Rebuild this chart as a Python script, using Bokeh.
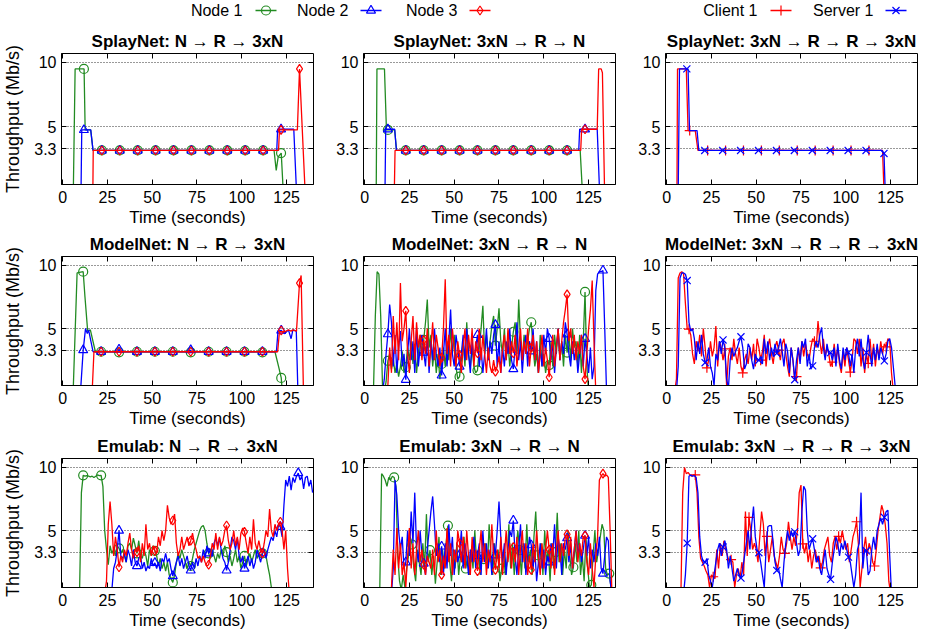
from bokeh.plotting import figure
from bokeh.models import Range1d, FixedTicker, LinearAxis
from bokeh.layouts import column, row
from bokeh.embed import file_html
from bokeh.resources import INLINE
from bokeh.core.properties import value

FONT = "Liberation Sans"
GREEN = "#228b22"
BLUE = "#0000ff"
RED = "#ff0000"

X_TICKS = [0, 25, 50, 75, 100, 125]
Y_TICKS = [3.3, 5, 10]
Y_TICK_LABELS = {3.3: "3.3", 5: "5", 10: "10"}

TITLES = [
    ["SplayNet: N \u2192 R \u2192 3xN", "SplayNet: 3xN \u2192 R \u2192 N", "SplayNet: 3xN \u2192 R \u2192 R \u2192 3xN"],
    ["ModelNet: N \u2192 R \u2192 3xN", "ModelNet: 3xN \u2192 R \u2192 N", "ModelNet: 3xN \u2192 R \u2192 R \u2192 3xN"],
    ["Emulab: N \u2192 R \u2192 3xN", "Emulab: 3xN \u2192 R \u2192 N", "Emulab: 3xN \u2192 R \u2192 R \u2192 3xN"],
]

# ---------------- SplayNet N -> R -> 3xN (breakpoints + markers) ----------------
S1_G_T = [2, 6, 7, 12.0, 12.6, 15.7, 17, 118, 119.2, 120.3, 122, 123.1]
S1_G_V = [0, 0, 9.5, 9.5, 4.75, 4.75, 3.15, 3.15, 1.6, 2.65, 2.95, 0]
S1_G_MT = [11.9, 21.9, 31.9, 41.9, 51.9, 61.9, 71.9, 81.9, 91.9, 101.9, 111.9, 121.9]
S1_G_MV = [9.5, 3.15, 3.15, 3.15, 3.15, 3.15, 3.15, 3.15, 3.15, 3.15, 3.15, 2.95]
S1_B_T = [2, 10.3, 10.7, 15.7, 17, 119.5, 120, 129, 130.5]
S1_B_V = [0, 0, 4.75, 4.75, 3.15, 3.15, 4.8, 4.8, 0]
S1_B_MT = [11.9, 21.9, 31.9, 41.9, 51.9, 61.9, 71.9, 81.9, 91.9, 101.9, 111.9, 121.9]
S1_B_MV = [4.75, 3.15, 3.15, 3.15, 3.15, 3.15, 3.15, 3.15, 3.15, 3.15, 3.15, 4.8]
S1_R_T = [2, 16.9, 17.1, 120.5, 121, 131, 132.2, 135.2]
S1_R_V = [0, 0, 3.15, 3.15, 4.75, 4.75, 9.5, 0.3]
S1_R_MT = [21.9, 31.9, 41.9, 51.9, 61.9, 71.9, 81.9, 91.9, 101.9, 111.9, 121.9, 132.2]
S1_R_MV = [3.15, 3.15, 3.15, 3.15, 3.15, 3.15, 3.15, 3.15, 3.15, 3.15, 4.75, 9.5]

# ---------------- SplayNet 3xN -> R -> N ----------------
S2_G_T = [3, 6.5, 6.9, 11.1, 12.2, 16.8, 17.8, 120.3, 121.5]
S2_G_V = [0, 0, 9.5, 9.5, 4.75, 4.75, 3.15, 3.15, 0]
S2_G_MT = [13, 23, 33, 43, 53, 63, 73, 83, 93, 103, 113]
S2_G_MV = [4.75, 3.15, 3.15, 3.15, 3.15, 3.15, 3.15, 3.15, 3.15, 3.15, 3.15]
S2_B_T = [3, 11.4, 11.8, 16.8, 17.8, 119.5, 120, 129.8, 131.1]
S2_B_V = [0, 0, 4.8, 4.8, 3.15, 3.15, 4.8, 4.8, 0]
S2_B_MT = [13, 23, 33, 43, 53, 63, 73, 83, 93, 103, 113, 123]
S2_B_MV = [4.8, 3.15, 3.15, 3.15, 3.15, 3.15, 3.15, 3.15, 3.15, 3.15, 3.15, 4.8]
S2_R_T = [3, 16.6, 17.0, 120.6, 121.1, 129.8, 130.6, 132, 132.7, 133.9]
S2_R_V = [0, 0, 3.15, 3.15, 4.8, 4.8, 9.5, 9.5, 9.2, 0]
S2_R_MT = [23, 33, 43, 53, 63, 73, 83, 93, 103, 113, 123]
S2_R_MV = [3.15, 3.15, 3.15, 3.15, 3.15, 3.15, 3.15, 3.15, 3.15, 3.15, 4.8]

# ---------------- SplayNet 3xN -> R -> R -> 3xN ----------------
S3_C_T = [1, 5.8, 6.1, 11, 12, 16, 17.5, 120.5, 121.3]
S3_C_V = [0, 0, 9.5, 9.5, 4.7, 4.7, 3.15, 3.15, 0]
S3_C_MT = [12.9, 22.9, 32.9, 42.9, 52.9, 62.9, 72.9, 82.9, 92.9, 102.9, 112.9]
S3_C_MV = [4.7, 3.15, 3.15, 3.15, 3.15, 3.15, 3.15, 3.15, 3.15, 3.15, 3.15]
S3_S_T = [1, 6.5, 7.2, 12, 12.8, 17, 18, 120.3, 121.3, 122]
S3_S_V = [0, 0, 9.5, 9.5, 4.7, 4.7, 3.15, 3.15, 2.92, 0]
S3_S_MT = [11.3, 21.3, 31.3, 41.3, 51.3, 61.3, 71.3, 81.3, 91.3, 101.3, 111.3, 121.3]
S3_S_MV = [9.5, 3.15, 3.15, 3.15, 3.15, 3.15, 3.15, 3.15, 3.15, 3.15, 3.15, 2.92]

# ---------------- ModelNet N -> R -> 3xN ----------------
M1_G_T = [1.5, 5.9, 8.1, 11.5, 12.5, 14, 15.5, 18.3, 118.5, 120.7, 122, 122.6]
M1_G_V = [0, 0, 9.4, 9.5, 7.5, 4.8, 4.9, 3.17, 3.17, 1.9, 1.1, 0]
M1_G_MT = [11.5, 21.5, 31.5, 41.5, 51.5, 61.5, 71.5, 81.5, 91.5, 101.5, 111.5, 122]
M1_G_MV = [9.5, 3.17, 3.12, 3.17, 3.17, 3.17, 3.12, 3.17, 3.17, 3.17, 3.12, 1.1]
M1_B_T = [1.5, 10, 11.5, 12.8, 13.8, 14.5, 17, 30.5, 31.5, 32.5, 70, 71, 72, 119.3, 120.2, 122, 124, 126, 127.5, 128.5, 130.4, 131.3]
M1_B_V = [0, 0, 3.3, 5.0, 4.6, 4.9, 3.17, 3.17, 3.35, 3.17, 3.17, 3.3, 3.17, 3.17, 4.8, 4.85, 4.6, 4.9, 4.2, 4.9, 4.8, 0]
M1_B_MT = [11.5, 21.5, 31.5, 41.5, 51.5, 61.5, 71.5, 81.5, 91.5, 101.5, 111.5, 122]
M1_B_MV = [3.3, 3.17, 3.35, 3.17, 3.17, 3.17, 3.3, 3.17, 3.17, 3.17, 3.17, 4.85]
M1_R_T = [1.5, 16.5, 17.5, 120, 121, 124, 126, 127.5, 128.5, 130.5, 132.2, 133.1, 134.4]
M1_R_V = [0, 0, 3.17, 3.17, 4.75, 4.75, 4.9, 4.8, 4.9, 4.8, 8.6, 9.2, 0]
M1_R_MT = [21.5, 31.5, 41.5, 51.5, 61.5, 71.5, 81.5, 91.5, 101.5, 111.5, 122, 132.2]
M1_R_MV = [3.17, 3.17, 3.17, 3.17, 3.17, 3.17, 3.17, 3.17, 3.17, 3.17, 4.85, 8.6]

# ---------------- ModelNet 3xN -> R -> N (1 s samples) ----------------
M2_T0 = 3
M2_G = [0, 0, 0.3, 6.0, 9.5, 9.3, 6.0, 0.5, 0, 0.8,
        2.45, 3.0, 1.8, 2.6, 1.5, 2.2, 1.2, 2.0, 3.2, 1.5,
        1.95, 3.5, 2.5, 4.0, 2.2, 3.8, 1.5, 3.0, 4.5, 3.0,
        4.1, 5.5, 7.3, 3.5, 4.5, 2.0, 3.5, 1.5, 3.0, 1.0,
        2.2, 3.5, 2.0, 4.0, 2.5, 5.0, 3.0, 4.5, 2.0, 1.0,
        1.2, 2.5, 4.0, 2.0, 5.5, 3.0, 2.0, 3.5, 2.0, 1.5,
        1.7, 3.5, 5.0, 6.8, 3.0, 4.5, 2.5, 4.0, 5.2, 6.0,
        3.65, 5.0, 6.6, 4.0, 3.0, 5.0, 2.5, 4.0, 2.0, 3.5,
        4.75, 5.5, 3.0, 7.3, 4.0, 2.5, 4.5, 3.0, 4.0, 5.0,
        5.5, 3.5, 2.0, 3.0, 1.5, 4.5, 2.0, 3.0, 1.5, 2.5,
        2.1, 4.0, 2.0, 4.5, 3.0, 5.0, 2.5, 4.0, 2.0, 4.5,
        3.1, 4.5, 2.5, 5.0, 3.5, 4.0, 2.0, 4.5, 1.5, 4.0,
        7.9, 2.0, 0]
M2_B = [0, 0, 0, 0, 0, 0, 0, 0, 1.0, 3.0,
        4.56, 6.9, 5.5, 2.0, 4.5, 1.5, 3.5, 4.8, 2.0, 3.0,
        0.96, 3.0, 5.0, 2.5, 4.0, 1.5, 5.0, 2.0, 3.5, 4.5,
        3.1, 2.0, 4.5, 1.5, 4.0, 2.5, 5.0, 3.0, 2.0, 3.5,
        1.3, 3.0, 5.0, 2.0, 4.0, 6.5, 3.0, 2.0, 4.5, 3.5,
        2.0, 3.0, 4.5, 2.5, 5.0, 3.0, 1.5, 4.0, 2.5, 3.5,
        4.5, 2.0, 3.5, 1.5, 3.0, 5.0, 2.5, 4.0, 3.0, 4.5,
        5.3, 2.0, 4.0, 1.5, 3.5, 2.0, 4.0, 3.0, 5.0, 2.5,
        1.8, 3.5, 5.5, 2.5, 4.0, 1.5, 3.5, 4.5, 2.0, 4.0,
        3.2, 5.0, 2.5, 4.0, 1.5, 3.5, 2.0, 4.5, 3.0, 5.0,
        4.2, 2.5, 4.0, 1.5, 3.5, 5.0, 2.5, 4.0, 3.0, 5.5,
        4.55, 3.0, 2.0, 4.0, 2.5, 3.5, 1.5, 3.0, 4.5, 2.0,
        4.2, 3.0, 1.5, 3.5, 1.0, 2.0, 8.0, 9.3, 9.5, 9.5,
        9.6, 5.0, 0]
M2_R = [0, 0, 0, 0, 0, 0, 0, 0, 0, 0,
        0.5, 3.5, 1.5, 6.0, 3.0, 5.5, 2.5, 8.6, 4.0, 5.0,
        6.4, 3.0, 1.5, 4.0, 6.0, 2.5, 5.5, 3.5, 4.5, 2.5,
        4.1, 3.0, 5.0, 2.0, 3.5, 5.5, 2.5, 4.5, 3.5, 2.0,
        2.7, 5.0, 8.9, 3.0, 4.5, 2.0, 5.0, 3.5, 2.0, 4.0,
        2.9, 1.5, 3.5, 5.0, 2.5, 4.5, 3.0, 5.0, 2.0, 4.0,
        3.05, 5.0, 2.5, 4.5, 3.0, 1.5, 3.5, 2.0, 1.5, 2.5,
        1.6, 2.0, 2.8, 1.5, 3.5, 4.5, 2.5, 5.0, 3.0, 4.0,
        3.05, 4.5, 2.0, 3.5, 5.0, 2.5, 4.0, 3.0, 5.0, 2.0,
        3.5, 4.5, 2.5, 4.0, 1.5, 3.0, 4.5, 2.0, 3.5, 2.5,
        1.15, 3.0, 4.5, 2.0, 3.5, 5.0, 2.5, 4.0, 5.5, 6.5,
        7.7, 4.0, 5.0, 3.0, 4.5, 2.5, 4.0, 3.0, 4.5, 2.0,
        1.0, 3.0, 5.0, 6.5, 8.8, 4.0, 0]

# ---------------- ModelNet 3xN -> R -> R -> 3xN ----------------
M3_S_T0 = 1.5
M3_S = [0, 0, 0, 0, 0, 2.0, 9.0, 9.4, 9.4, 9.3,
        8.8, 5.5, 4.8, 5.0, 4.2, 2.5, 4.0, 3.0, 4.5, 3.0,
        2.3, 2.5, 3.5, 2.0, 1.5, 0.5, 3.0, 2.5, 4.0, 3.0,
        4.1, 3.5, 1.0, 0.3, 2.5, 3.5, 2.8, 3.2, 3.5, 4.0,
        4.35, 3.5, 1.8, 2.2, 3.8, 3.5, 2.5, 1.8, 3.0, 2.5,
        2.5, 2.8, 2.2, 4.2, 3.0, 4.0, 2.5, 3.5, 2.8, 3.8,
        3.05, 3.5, 4.2, 3.2, 2.0, 3.8, 3.2, 1.5, 3.5, 2.5,
        0.96, 2.5, 3.5, 2.2, 4.0, 3.5, 4.2, 2.0, 3.0, 1.8,
        2.05, 3.5, 4.0, 3.5, 4.5, 5.1, 3.5, 2.5, 3.8, 3.0,
        3.1, 2.5, 3.5, 2.0, 3.8, 2.5, 1.8, 3.5, 2.5, 3.5,
        3.1, 2.0, 3.0, 1.5, 3.5, 4.2, 2.8, 4.2, 2.5, 1.8,
        3.1, 4.5, 3.0, 2.0, 3.5, 2.5, 3.8, 2.5, 3.5, 3.0,
        2.45, 3.0, 4.0, 4.2, 3.5, 2.0, 0.5, 0]
M3_C_T0 = 2.5
M3_C = [0, 0, 0, 1.0, 9.0, 9.4, 9.5, 9.3, 7.0, 5.0,
        4.95, 4.5, 3.0, 2.2, 4.0, 3.2, 4.5, 2.8, 5.0, 3.5,
        1.9, 2.5, 4.0, 2.8, 3.5, 5.2, 2.0, 4.0, 3.5, 2.5,
        3.4, 0.5, 2.8, 3.5, 2.5, 4.2, 3.0, 2.2, 3.5, 2.0,
        1.5, 2.5, 3.0, 2.2, 3.5, 2.5, 3.8, 2.0, 4.2, 3.5,
        2.5, 3.2, 4.5, 2.0, 3.5, 4.2, 3.0, 2.2, 3.5, 4.0,
        3.3, 2.5, 3.8, 4.2, 3.0, 2.0, 1.2, 3.5, 2.5, 1.0,
        1.2, 3.5, 2.5, 4.0, 2.8, 3.8, 3.0, 2.5, 3.5, 4.2,
        4.0, 3.5, 5.6, 4.0, 3.0, 4.2, 2.8, 3.5, 3.0, 2.0,
        2.35, 3.8, 2.5, 3.5, 2.2, 1.5, 3.2, 2.0, 3.5, 2.5,
        1.55, 2.5, 4.2, 4.0, 3.0, 4.2, 2.0, 3.5, 1.5, 3.0,
        2.25, 4.2, 2.5, 3.8, 2.0, 3.5, 2.8, 4.0, 3.0, 3.8,
        3.55, 4.2, 4.0, 1.5, 0]

# ---------------- Emulab N -> R -> 3xN ----------------
E1_T0 = 1.5
E1_G = [0, 0, 0, 0, 0, 0, 0, 0, 0.3, 8.0,
        9.37, 9.3, 9.35, 9.3, 9.25, 9.3, 9.2, 9.3, 9.4, 9.35,
        9.37, 8.5, 5.0, 3.5, 2.3, 3.8, 3.2, 3.5, 3.0, 3.8,
        3.6, 3.2, 3.5, 3.0, 2.5, 3.8, 4.0, 3.5, 4.4, 3.8,
        3.2, 4.2, 3.0, 2.8, 3.5, 3.0, 2.2, 3.5, 3.0, 3.8,
        3.4, 3.0, 2.2, 2.8, 2.0, 2.5, 1.8, 2.5, 1.5, 1.2,
        0.9, 1.5, 2.5, 3.2, 2.8, 3.5, 3.0, 2.5, 2.0, 2.5,
        2.2, 2.8, 3.5, 4.0, 4.5, 5.0, 5.3, 5.4, 5.0, 4.0,
        3.2, 2.8, 3.5, 3.0, 2.5, 3.2, 2.8, 3.5, 3.0, 3.8,
        3.3, 2.5, 3.0, 2.2, 2.8, 3.5, 2.5, 3.0, 2.0, 2.5,
        3.0, 2.2, 2.8, 3.2, 2.5, 3.0, 3.5, 2.8, 3.2, 3.0,
        3.2, 3.5, 3.0, 2.2, 1.5, 0.5, 0]
E1_B = [0, 0, 0, 0, 0, 0, 0, 0, 0, 0,
        0, 0, 0, 0, 0, 0, 0, 0, 0, 0,
        0, 0, 0, 0, 0, 0, 0.3, 2.0, 2.5, 3.5,
        5.0, 3.0, 2.8, 3.2, 2.5, 3.5, 3.0, 2.2, 3.5, 2.5,
        2.2, 2.8, 3.0, 2.0, 2.5, 1.8, 2.2, 2.0, 2.8, 2.2,
        2.45, 2.0, 2.5, 1.8, 2.8, 2.5, 3.2, 2.5, 2.8, 2.0,
        1.4, 2.0, 2.5, 3.0, 2.2, 2.8, 2.0, 2.5, 3.0, 2.2,
        1.85, 2.5, 2.0, 2.8, 2.2, 3.0, 2.5, 3.5, 2.8, 3.8,
        3.2, 3.5, 3.0, 4.0, 4.4, 3.8, 4.4, 3.5, 2.8, 2.5,
        1.85, 2.5, 3.5, 4.5, 4.2, 3.5, 4.4, 3.0, 2.5, 3.0,
        2.0, 2.5, 3.0, 2.2, 2.8, 2.0, 2.5, 3.5, 3.0, 2.5,
        3.2, 3.5, 2.8, 3.5, 4.0, 4.5, 4.2, 5.0, 4.5, 5.5,
        5.3, 4.5, 7.0, 9.0, 8.5, 9.3, 8.2, 9.2, 8.8, 9.3,
        9.55, 9.0, 9.3, 8.3, 9.2, 9.3, 8.5, 9.0, 8.0]
E1_R = [0, 0, 0, 0, 0, 0, 0, 0, 0, 0,
        0, 0, 0, 0, 0, 0, 0, 0, 0, 0,
        0, 0, 0, 1.0, 5.5, 7.3, 5.5, 3.0, 4.5, 3.5,
        2.1, 3.0, 2.5, 3.5, 3.0, 4.0, 4.8, 3.5, 2.8, 3.5,
        3.3, 3.8, 2.5, 4.0, 3.0, 5.5, 3.5, 4.0, 3.0, 3.8,
        3.4, 3.2, 4.5, 3.8, 5.0, 4.2, 5.0, 7.0, 6.0, 5.5,
        5.8, 6.3, 4.0, 3.0, 3.5, 4.5, 3.5, 4.0, 4.5, 3.8,
        4.2, 4.8, 4.0, 3.5, 2.8, 3.0, 2.5, 3.0, 2.5, 2.2,
        2.3, 3.0, 4.0, 3.5, 4.8, 3.5, 4.5, 3.8, 4.2, 5.0,
        5.4, 4.2, 3.5, 4.0, 5.0, 3.8, 4.5, 3.5, 4.8, 5.2,
        4.9, 4.0, 3.2, 4.5, 3.5, 5.9, 4.0, 3.5, 4.2, 3.5,
        3.2, 4.0, 5.0, 4.5, 6.7, 5.0, 4.5, 5.5, 5.0, 5.5,
        5.7, 5.0, 3.5, 5.0, 2.0, 0]

# ---------------- Emulab 3xN -> R -> N ----------------
E2_G_T0 = 6.5
E2_G = [0, 0, 0.5, 9.5, 9.3, 9.0, 8.5, 9.2, 9.0, 9.3,
        9.2, 8.5, 3.0, 1.0, 0.3, 1.5, 0.5, 2.0, 3.0, 4.5,
        3.9, 2.0, 1.0, 3.5, 2.5, 1.5, 4.0, 2.0, 6.3, 2.5,
        3.45, 1.5, 3.0, 0.8, 2.5, 4.5, 1.5, 3.5, 2.0, 4.0,
        5.4, 2.5, 1.0, 3.5, 2.0, 4.0, 1.5, 3.0, 2.5, 4.5,
        2.0, 3.0, 1.5, 3.5, 2.0, 5.0, 2.5, 3.5, 1.5, 3.0,
        2.75, 4.0, 2.0, 5.5, 3.0, 1.5, 4.0, 2.5, 3.5, 1.0,
        2.0, 3.5, 1.5, 2.5, 5.5, 2.0, 4.0, 1.5, 3.5, 5.0,
        3.45, 1.5, 4.0, 2.0, 5.5, 2.5, 3.5, 1.5, 4.5, 6.5,
        3.05, 2.0, 4.0, 1.5, 5.0, 2.5, 3.5, 1.0, 4.0, 2.0,
        3.3, 6.4, 2.5, 4.0, 1.5, 3.5, 2.0, 5.0, 3.0, 1.5,
        2.1, 4.0, 2.5, 5.0, 1.5, 3.0, 1.0, 4.5, 2.0, 0.5,
        0.7, 3.0, 5.0, 2.5, 3.5, 4.5, 5.5, 5.0, 2.0, 1.5,
        1.6, 0.5]
E2_T0 = 3
E2_B = [0, 0, 0, 0, 0, 0, 0, 0, 0, 0,
        0, 0, 0, 2.0, 9.0, 7.8, 5.0, 3.5, 4.5, 2.0,
        2.5, 5.0, 3.0, 6.5, 4.0, 8.0, 3.5, 2.5, 5.0, 3.0,
        2.4, 1.5, 3.5, 5.0, 6.5, 7.7, 5.5, 3.0, 4.0, 2.5,
        3.75, 1.5, 4.0, 2.0, 5.5, 3.0, 4.5, 1.5, 3.5, 2.5,
        3.1, 5.0, 2.0, 4.0, 3.0, 1.5, 3.5, 2.5, 4.5, 2.0,
        3.0, 4.0, 1.5, 5.0, 2.5, 4.0, 2.0, 3.5, 1.5, 4.0,
        3.05, 5.0, 7.3, 4.5, 2.5, 4.0, 1.5, 3.5, 5.0, 4.5,
        5.8, 3.0, 1.5, 3.5, 5.5, 2.5, 4.0, 1.5, 3.0, 4.5,
        3.85, 2.0, 3.5, 1.0, 2.5, 4.0, 2.0, 3.5, 1.5, 3.0,
        2.5, 4.0, 3.0, 5.5, 2.0, 4.5, 3.5, 1.5, 4.0, 3.5,
        4.4, 2.5, 4.0, 2.0, 3.5, 5.0, 3.0, 4.0, 2.5, 3.5,
        4.6, 3.0, 4.5, 2.0, 3.5, 2.5, 4.0, 3.0, 4.5, 2.0,
        1.6, 3.0, 4.5, 4.2, 1.0, 0]
E2_R = [0, 0, 0, 0, 0, 0, 0, 0, 0, 0,
        0, 0, 0.5, 3.5, 1.5, 5.2, 2.0, 4.0, 1.5, 2.5,
        0.53, 3.0, 5.2, 2.0, 4.0, 1.5, 3.5, 5.0, 2.5, 3.5,
        2.3, 1.5, 3.0, 2.5, 2.0, 3.5, 1.5, 5.0, 2.5, 3.5,
        1.5, 3.0, 2.0, 5.2, 2.5, 4.0, 1.5, 3.5, 2.5, 5.0,
        4.0, 2.5, 4.5, 2.0, 5.0, 3.0, 1.5, 4.5, 2.5, 3.5,
        1.8, 3.5, 5.0, 2.5, 4.0, 1.5, 3.5, 2.5, 5.5, 3.0,
        1.9, 3.5, 2.0, 4.5, 1.5, 3.0, 5.0, 2.5, 4.0, 2.0,
        3.7, 2.5, 4.5, 1.5, 3.5, 5.0, 2.5, 4.0, 1.5, 3.0,
        1.9, 4.0, 2.5, 5.0, 3.0, 1.5, 4.0, 2.0, 3.5, 5.0,
        3.5, 2.0, 4.0, 1.5, 3.5, 5.0, 2.5, 4.0, 3.0, 4.5,
        4.7, 3.0, 4.5, 2.0, 3.5, 5.0, 2.5, 4.0, 3.0, 4.5,
        4.6, 2.5, 1.5, 4.0, 2.0, 0.5, 3.0, 4.5, 9.0, 9.3,
        9.5, 9.3, 9.4, 9.2, 5.0, 0]

# ---------------- Emulab 3xN -> R -> R -> 3xN ----------------
E3_C_T0 = 6
E3_C = [0, 0, 0, 8.0, 10.0, 9.5, 9.6, 9.4, 9.3, 9.4,
        9.4, 8.0, 4.5, 2.8, 2.5, 2.2, 1.8, 1.5, 0.5, 1.5,
        1.35, 1.2, 3.5, 2.0, 4.0, 3.0, 4.2, 3.5, 3.0, 2.5,
        2.7, 2.5, 0.5, 1.5, 2.0, 1.2, 2.5, 1.5, 6.5, 3.0,
        6.05, 5.0, 3.5, 4.0, 3.5, 2.5, 4.5, 6.5, 5.5, 3.0,
        4.55, 2.5, 3.5, 4.5, 3.0, 2.5, 2.0, 3.0, 4.5, 3.5,
        3.2, 4.0, 5.7, 4.5, 3.5, 4.5, 3.8, 5.0, 8.0, 8.6,
        3.95, 3.2, 4.0, 2.5, 3.5, 2.0, 3.0, 3.5, 2.5, 3.0,
        2.05, 2.5, 3.5, 4.0, 4.5, 3.0, 2.5, 4.0, 4.5, 3.5,
        4.55, 4.0, 5.0, 4.2, 3.5, 4.0, 2.5, 3.5, 4.5, 5.0,
        5.7, 4.0, 0.5, 2.0, 3.5, 4.5, 3.0, 4.0, 3.5, 2.5,
        2.2, 3.5, 5.0, 6.0, 7.0, 6.5, 5.5, 4.0, 1.0, 0]
E3_S_T0 = 1.5
E3_S = [0, 0, 0, 0, 0, 0, 0, 0, 0, 1.5,
        4.0, 9.3, 9.4, 9.3, 9.35, 9.2, 8.0, 4.5, 3.0, 2.5,
        2.5, 2.8, 1.5, 1.0, 0.5, 1.5, 2.5, 3.5, 4.0, 3.0,
        3.7, 4.2, 3.5, 2.0, 3.0, 2.0, 1.0, 1.5, 2.0, 1.5,
        1.25, 2.0, 3.0, 4.0, 5.0, 3.5, 5.5, 6.9, 4.5, 3.5,
        3.25, 2.5, 1.5, 0.5, 3.5, 5.3, 5.4, 5.4, 4.0, 2.5,
        1.85, 2.0, 1.2, 0.5, 2.5, 4.0, 5.0, 4.2, 5.0, 4.5,
        4.9, 4.0, 3.0, 3.5, 6.5, 8.5, 8.2, 5.0, 3.5, 4.0,
        4.35, 3.5, 2.5, 3.0, 2.0, 1.5, 2.5, 3.5, 2.0, 1.5,
        1.15, 2.5, 3.5, 4.5, 4.0, 3.0, 4.0, 3.5, 4.2, 3.5,
        2.9, 2.5, 1.5, 0.5, 1.5, 3.5, 4.0, 8.0, 2.0, 3.5,
        3.4, 1.5, 1.8, 3.5, 4.5, 3.5, 5.0, 5.5, 6.0, 5.5,
        6.05, 6.5, 6.6, 3.0, 0]

# ---------------- layout (style only) ----------------
COL_W = [325, 300, 302]
COL_L = [61, 38, 40]
COL_R = [12, 10, 10]
LEG_H = 22
ROW_H = [208, 202, 202]
ROW_T = [31, 24, 25]
ROW_B = [46, 47, 47]

MARK = {"g": ("circle", GREEN), "b": ("triangle", BLUE), "r": ("diamond", RED),
        "c": ("cross", RED), "s": ("x", BLUE)}


def sampled(t0, vals):
    ts = [t0 + k for k in range(len(vals))]
    return ts, vals, ts[::10], vals[::10]


def draw(p, kind, t, v, mt, mv):
    marker, color = MARK[kind]
    p.line(t, v, line_color=color, line_width=1.3)
    keep = [(a, b) for a, b in zip(mt, mv) if b >= 0.6]
    if keep:
        size = 10 if marker in ("cross", "x") else 9
        p.scatter([a for a, _ in keep], [b for _, b in keep], marker=marker, size=size,
                  line_color=color, fill_color=None, line_width=1.2)


def make_panel(r, c):
    p = figure(width=COL_W[c], height=ROW_H[r], x_range=Range1d(-0.6, 140), y_range=Range1d(0.5, 10.7),
               output_backend="svg", toolbar_location=None, title=TITLES[r][c],
               min_border_left=COL_L[c], min_border_right=COL_R[c],
               min_border_top=ROW_T[r], min_border_bottom=ROW_B[r])
    p.title.text_font = FONT
    p.title.text_font_size = "17px"
    p.title.text_font_style = "bold"
    p.title.text_color = "black"
    p.title.align = "center"
    p.title.standoff = 5
    p.xaxis.ticker = FixedTicker(ticks=X_TICKS)
    p.yaxis.ticker = FixedTicker(ticks=Y_TICKS)
    p.yaxis.major_label_overrides = Y_TICK_LABELS
    for ax in p.axis:
        ax.major_tick_in = 5
        ax.major_tick_out = 0
        ax.minor_tick_in = 0
        ax.minor_tick_out = 0
        ax.major_label_text_font = FONT
        ax.major_label_text_font_size = "16px"
        ax.major_label_text_color = "black"
        ax.axis_line_color = "black"
        ax.major_tick_line_color = "black"
        ax.axis_label_text_color = "black"
    p.xaxis.major_label_standoff = 6
    p.yaxis.major_label_standoff = 5
    p.xaxis.axis_label = "Time (seconds)"
    p.xaxis.axis_label_text_font = FONT
    p.xaxis.axis_label_text_font_size = "17px"
    p.xaxis.axis_label_text_font_style = "normal"
    p.xaxis.axis_label_standoff = 2
    if c == 0:
        p.yaxis.axis_label = "Throughput (Mb/s)"
        p.yaxis.axis_label_text_font = FONT
        p.yaxis.axis_label_text_font_size = "18px"
        p.yaxis.axis_label_text_font_style = "normal"
        p.yaxis.axis_label_standoff = 8
    # mirrored ticks (top / right)
    top = LinearAxis(ticker=FixedTicker(ticks=X_TICKS), major_tick_in=5, major_tick_out=0,
                     minor_tick_in=0, minor_tick_out=0, major_label_standoff=0,
                     major_label_text_font_size="1px",
                     major_label_overrides={k: "" for k in X_TICKS}, axis_line_color=None)
    right = LinearAxis(ticker=FixedTicker(ticks=Y_TICKS), major_tick_in=5, major_tick_out=0,
                       minor_tick_in=0, minor_tick_out=0, major_label_standoff=0,
                       major_label_text_font_size="1px",
                       major_label_overrides={k: "" for k in Y_TICKS}, axis_line_color=None)
    p.add_layout(top, "above")
    p.add_layout(right, "right")
    p.xgrid.visible = False
    p.ygrid.ticker = FixedTicker(ticks=Y_TICKS)
    p.ygrid.grid_line_color = "black"
    p.ygrid.grid_line_dash = "1 2"
    p.ygrid.grid_line_alpha = 0.8
    p.outline_line_color = "black"
    p.outline_line_width = 1
    p.outline_line_alpha = 1
    return p


panels = [[make_panel(r, c) for c in range(3)] for r in range(3)]

# row 1
p = panels[0][0]
draw(p, "g", S1_G_T, S1_G_V, S1_G_MT, S1_G_MV)
draw(p, "b", S1_B_T, S1_B_V, S1_B_MT, S1_B_MV)
draw(p, "r", S1_R_T, S1_R_V, S1_R_MT, S1_R_MV)
p = panels[0][1]
draw(p, "g", S2_G_T, S2_G_V, S2_G_MT, S2_G_MV)
draw(p, "b", S2_B_T, S2_B_V, S2_B_MT, S2_B_MV)
draw(p, "r", S2_R_T, S2_R_V, S2_R_MT, S2_R_MV)
p = panels[0][2]
draw(p, "c", S3_C_T, S3_C_V, S3_C_MT, S3_C_MV)
draw(p, "s", S3_S_T, S3_S_V, S3_S_MT, S3_S_MV)
# row 2
p = panels[1][0]
draw(p, "g", M1_G_T, M1_G_V, M1_G_MT, M1_G_MV)
draw(p, "b", M1_B_T, M1_B_V, M1_B_MT, M1_B_MV)
draw(p, "r", M1_R_T, M1_R_V, M1_R_MT, M1_R_MV)
p = panels[1][1]
draw(p, "g", *sampled(M2_T0, M2_G))
draw(p, "b", *sampled(M2_T0, M2_B))
draw(p, "r", *sampled(M2_T0, M2_R))
p = panels[1][2]
draw(p, "c", *sampled(M3_C_T0, M3_C))
draw(p, "s", *sampled(M3_S_T0, M3_S))
# row 3
p = panels[2][0]
draw(p, "g", *sampled(E1_T0, E1_G))
draw(p, "b", *sampled(E1_T0, E1_B))
draw(p, "r", *sampled(E1_T0, E1_R))
p = panels[2][1]
draw(p, "g", *sampled(E2_G_T0, E2_G))
draw(p, "b", *sampled(E2_T0, E2_B))
draw(p, "r", *sampled(E2_T0, E2_R))
p = panels[2][2]
draw(p, "c", *sampled(E3_C_T0, E3_C))
draw(p, "s", *sampled(E3_S_T0, E3_S))

# ---------------- legend strip ----------------
LEG_LABELS = ["Node 1", "Node 2", "Node 3", "Client 1", "Server 1"]
LEG_KINDS = ["g", "b", "r", "c", "s"]
LEG_TEXT_RIGHT = [242, 348, 457, 757, 873]
LEG_SAMPLE_X0 = [255, 360, 469, 770, 885]
LEG_SAMPLE_LEN = 21
LEG_Y = 12

lg = figure(width=927, height=LEG_H, x_range=Range1d(0, 927), y_range=Range1d(0, LEG_H),
            output_backend="svg", toolbar_location=None, min_border=0,
            x_axis_location=None, y_axis_location=None)
lg.outline_line_color = None
lg.xgrid.visible = False
lg.ygrid.visible = False
lg.text(x=LEG_TEXT_RIGHT, y=[LEG_Y] * 5, text=LEG_LABELS, text_font=value(FONT),
        text_font_size=value("16px"), text_align="right", text_baseline="middle", text_color="black")
for k, x0 in zip(LEG_KINDS, LEG_SAMPLE_X0):
    marker, color = MARK[k]
    lg.line([x0, x0 + LEG_SAMPLE_LEN], [LEG_Y, LEG_Y], line_color=color, line_width=1.3)
    lg.scatter([x0 + LEG_SAMPLE_LEN / 2], [LEG_Y], marker=marker, size=10 if marker in ("cross", "x") else 9,
               line_color=color, fill_color=None, line_width=1.2)

layout = column(lg, row(*panels[0]), row(*panels[1]), row(*panels[2]))
open("out.html", "w").write(file_html(layout, INLINE))
